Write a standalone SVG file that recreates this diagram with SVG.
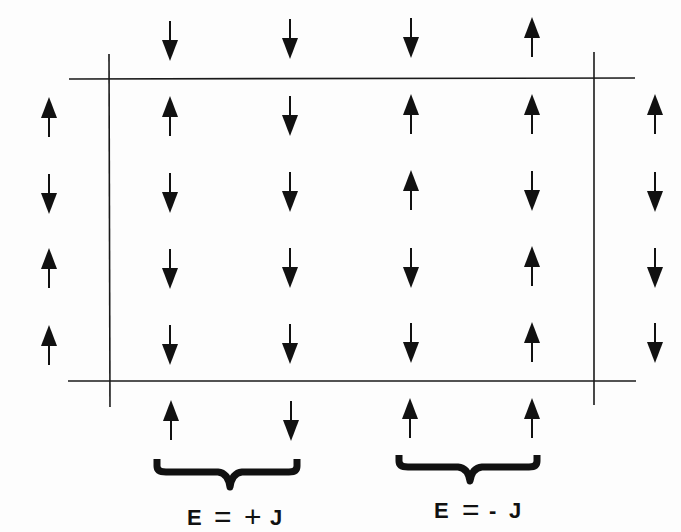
<svg xmlns="http://www.w3.org/2000/svg" xmlns:xlink="http://www.w3.org/1999/xlink" width="681" height="532" viewBox="0 0 681 532">
<style>
.ln{stroke:#1a1a1a;stroke-width:1.6;fill:none}
.br{stroke:#111;stroke-width:7;fill:none;stroke-linejoin:round}
.lbl{font-family:"Liberation Sans",Arial,sans-serif;font-size:22px;font-weight:bold;fill:#111}
.op{font-size:30px;font-weight:normal}
</style>
<defs>
<g id="up"><line x1="0" y1="-2" x2="0" y2="20" stroke="#111" stroke-width="2"/><polygon points="0,-20 -8,1 8,1" fill="#111"/></g>
<g id="dn"><line x1="0" y1="2" x2="0" y2="-20" stroke="#111" stroke-width="2"/><polygon points="0,20 -8,-1 8,-1" fill="#111"/></g>
</defs>
<rect width="681" height="532" fill="#fdfdfd"/>
<g id="connectors">
<line class="ln" x1="69" y1="79" x2="635" y2="78"/>
<line class="ln" x1="68" y1="381" x2="636" y2="381"/>
<line class="ln" x1="109" y1="54" x2="110" y2="407"/>
<line class="ln" x1="594" y1="52" x2="594" y2="405"/>
</g>
<g id="row1">
<use id="s1_2" xlink:href="#dn" x="170" y="41"/>
<use id="s1_3" xlink:href="#dn" x="290" y="39"/>
<use id="s1_4" xlink:href="#dn" x="411" y="38"/>
<use id="s1_5" xlink:href="#up" x="532" y="37"/>
</g>
<g id="row2">
<use id="s2_1" xlink:href="#up" x="49" y="117"/>
<use id="s2_2" xlink:href="#up" x="170" y="116"/>
<use id="s2_3" xlink:href="#dn" x="290" y="116"/>
<use id="s2_4" xlink:href="#up" x="411" y="114"/>
<use id="s2_5" xlink:href="#up" x="532" y="114"/>
<use id="s2_6" xlink:href="#up" x="655" y="114"/>
</g>
<g id="row3">
<use id="s3_1" xlink:href="#dn" x="49" y="194"/>
<use id="s3_2" xlink:href="#dn" x="170" y="193"/>
<use id="s3_3" xlink:href="#dn" x="290" y="192"/>
<use id="s3_4" xlink:href="#up" x="411" y="190"/>
<use id="s3_5" xlink:href="#dn" x="532" y="191"/>
<use id="s3_6" xlink:href="#dn" x="655" y="192"/>
</g>
<g id="row4">
<use id="s4_1" xlink:href="#up" x="49" y="268"/>
<use id="s4_2" xlink:href="#dn" x="170" y="269"/>
<use id="s4_3" xlink:href="#dn" x="290" y="268"/>
<use id="s4_4" xlink:href="#dn" x="411" y="268"/>
<use id="s4_5" xlink:href="#up" x="532" y="266"/>
<use id="s4_6" xlink:href="#dn" x="655" y="268"/>
</g>
<g id="row5">
<use id="s5_1" xlink:href="#up" x="49" y="345"/>
<use id="s5_2" xlink:href="#dn" x="170" y="345"/>
<use id="s5_3" xlink:href="#dn" x="290" y="344"/>
<use id="s5_4" xlink:href="#dn" x="411" y="343"/>
<use id="s5_5" xlink:href="#up" x="532" y="342"/>
<use id="s5_6" xlink:href="#dn" x="655" y="343"/>
</g>
<g id="row6">
<use id="s6_2" xlink:href="#up" x="171" y="420"/>
<use id="s6_3" xlink:href="#dn" x="291" y="421"/>
<use id="s6_4" xlink:href="#up" x="410" y="418"/>
<use id="s6_5" xlink:href="#up" x="532" y="418"/>
</g>
<g id="brace-plus">
<path class="br" d="M157,459 L157,466 Q157,472 166,472 L218,472 Q228,473 230,487 Q232,473 242,472 L289,472 Q297,472 297,466 L297,459"/>
<text class="lbl"><tspan x="187" y="525">E</tspan><tspan class="op" x="214" y="527">=</tspan><tspan class="op" x="244" y="527">+</tspan><tspan x="270" y="525">J</tspan></text>
</g>
<g id="brace-minus">
<path class="br" d="M399,455 L399,461 Q399,467 408,467 L458,467 Q468,468 470,481 Q472,468 482,467 L529,467 Q537,467 537,461 L537,455"/>
<text class="lbl"><tspan x="434" y="518">E</tspan><tspan class="op" x="462" y="520">=</tspan><tspan x="489" y="518">-</tspan><tspan x="509" y="518">J</tspan></text>
</g>
</svg>
